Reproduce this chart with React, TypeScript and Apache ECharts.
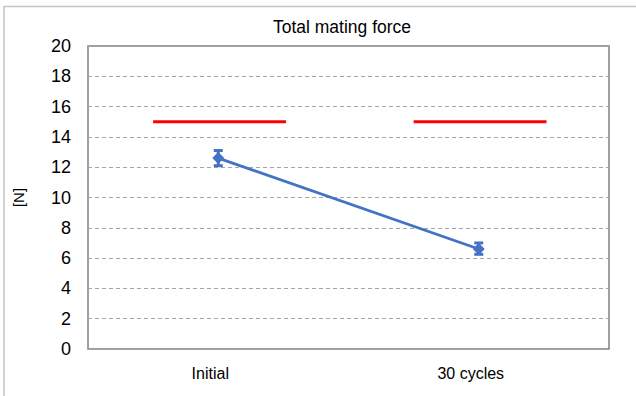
import React, { useEffect, useRef } from "react";
import * as echarts from "echarts";

const categories = ["Initial", "30 cycles"];
const meanValues = [12.6, 6.6];
const lowValues = [12.1, 6.25];
const highValues = [13.1, 7.0];
const limitValues = [15, 15];
const yTicks = { min: 0, max: 20, interval: 2 };

const BLUE = "#4472C4";
const RED = "#FF0000";
const FONT = "'Liberation Sans Narrow', 'Arial Narrow', 'Liberation Sans', Arial, sans-serif";

export default function App() {
  const ref = useRef<HTMLDivElement>(null);
  useEffect(() => {
    if (!ref.current) return;
    const chart = echarts.init(ref.current, undefined, { renderer: "svg" });
    const errData = categories.map((_, i) => [i, lowValues[i], highValues[i]]);
    const limitData = categories.map((_, i) => [i, limitValues[i]]);
    chart.setOption({
      animation: false,
      backgroundColor: "#ffffff",
      title: {
        text: "Total mating force",
        left: 337,
        textAlign: "center",
        top: 13,
        textStyle: { fontFamily: "'Liberation Sans', Arial, sans-serif", fontSize: 17.5, fontWeight: "normal", color: "#000" },
      },
      graphic: [
        {
          type: "rect",
          shape: { x: 4, y: 6.5, width: 700, height: 500 },
          style: { fill: "none", stroke: "#c4c4c4", lineWidth: 1.5 },
          silent: true,
        },
      ],
      grid: {
        left: 88,
        top: 46,
        width: 521,
        height: 303,
        show: true,
        borderColor: "#808080",
        borderWidth: 1.5,
        backgroundColor: "transparent",
        containLabel: false,
      },
      xAxis: {
        type: "category",
        data: categories,
        boundaryGap: true,
        axisLine: { show: false },
        axisTick: { show: false },
        axisLabel: {
          fontFamily: FONT,
          fontSize: 16,
          color: "#000",
          margin: 16,
          padding: [0, 16, 0, 0],
        },
      },
      yAxis: {
        type: "value",
        min: yTicks.min,
        max: yTicks.max,
        interval: yTicks.interval,
        name: "[N]",
        nameLocation: "middle",
        nameRotate: 90,
        nameGap: 62,
        nameTextStyle: { fontFamily: FONT, fontSize: 15, color: "#000" },
        axisLine: { show: false },
        axisTick: { show: false },
        axisLabel: { fontFamily: FONT, fontSize: 18, color: "#000", margin: 17 },
        splitLine: { show: true, lineStyle: { color: "#a6a6a6", type: [4, 3], width: 1 } },
      },
      series: [
        {
          type: "custom",
          name: "limit",
          data: limitData,
          z: 3,
          renderItem: (params: any, api: any) => {
            const idx = api.value(0);
            const c = api.coord([idx, api.value(1)]);
            const bw = api.size([1, 0])[0];
            return {
              type: "line",
              shape: { x1: c[0] - bw * 0.25, y1: c[1], x2: c[0] + bw * 0.26, y2: c[1] },
              style: { stroke: RED, lineWidth: 2.8 },
            };
          },
        },
        {
          type: "line",
          name: "mean",
          data: meanValues,
          symbol: "diamond",
          symbolSize: 12,
          z: 4,
          lineStyle: { color: BLUE, width: 2.8 },
          itemStyle: { color: BLUE },
        },
        {
          type: "custom",
          name: "error",
          data: errData,
          z: 5,
          renderItem: (params: any, api: any) => {
            const idx = api.value(0);
            const lo = api.coord([idx, api.value(1)]);
            const hi = api.coord([idx, api.value(2)]);
            const w = 4.5;
            const st = { stroke: BLUE, lineWidth: 3 };
            return {
              type: "group",
              children: [
                { type: "line", shape: { x1: lo[0], y1: lo[1], x2: hi[0], y2: hi[1] }, style: st },
                { type: "line", shape: { x1: lo[0] - w, y1: lo[1], x2: lo[0] + w, y2: lo[1] }, style: st },
                { type: "line", shape: { x1: hi[0] - w, y1: hi[1], x2: hi[0] + w, y2: hi[1] }, style: st },
              ],
            };
          },
        },
      ],
    });
    return () => chart.dispose();
  }, []);
  return (
    <div
      ref={ref}
      style={{ position: "fixed", left: 0, top: 0, width: 636, height: 396, background: "#fff" }}
    />
  );
}
